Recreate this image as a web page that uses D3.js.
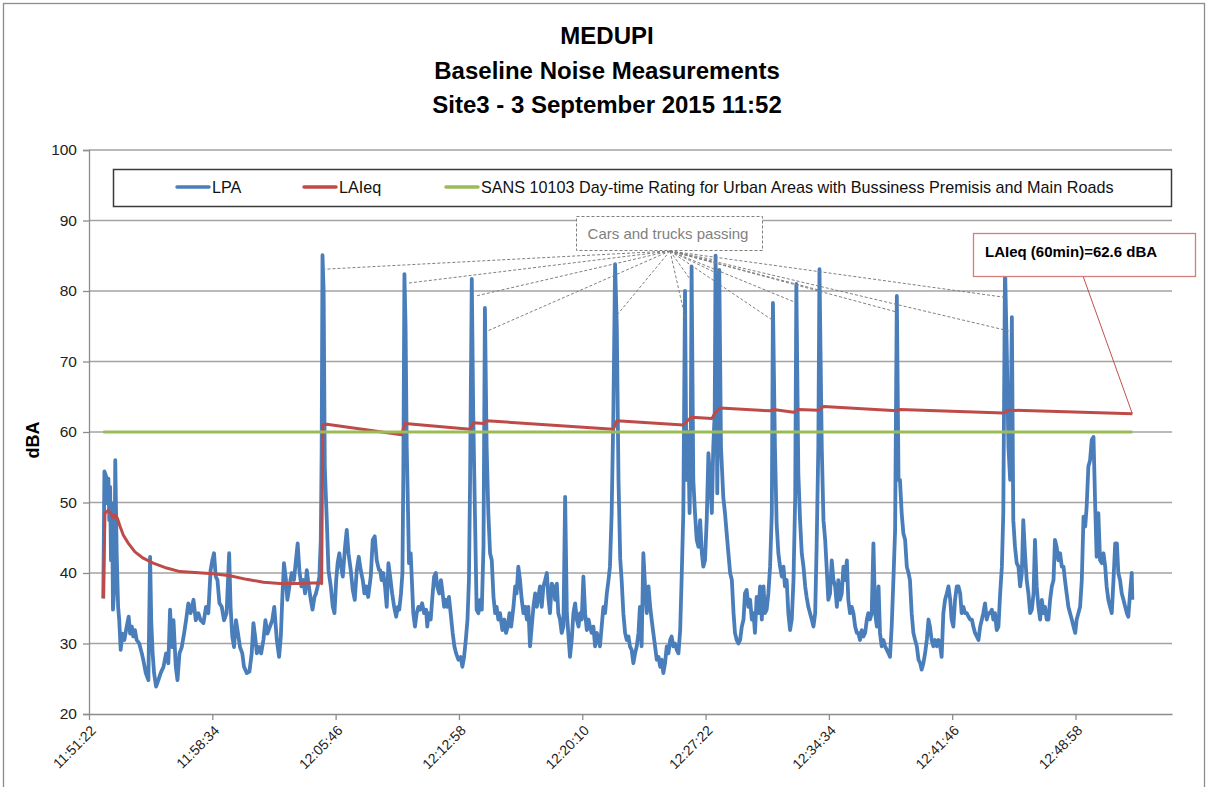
<!DOCTYPE html>
<html>
<head>
<meta charset="utf-8">
<script src="https://cdn.jsdelivr.net/npm/d3@7"></script>
<style>
  body { margin: 0; background: #fff; }
  svg { display: block; font-family: "Liberation Sans", Arial, sans-serif; }
</style>
</head>
<body>
<svg id="chart" width="1208" height="787"></svg>
<script>
// ---------------- data ----------------
var titleLines = ["MEDUPI", "Baseline Noise Measurements", "Site3 - 3 September 2015 11:52"];
var startTime = new Date(2015, 8, 3, 11, 51, 22);
var axisEndSec = 3794;
var xTickSec = [0, 432, 864, 1296, 1728, 2160, 2592, 3024, 3456];
var yTicks = [20, 30, 40, 50, 60, 70, 80, 90, 100];

// LPA, seconds after 11:51:22 and dBA
var lpaSec = [50,54,60,64,68,71,74,77,81,84,89,92,97,102,106,111,117,124,132,139,144,150,155,161,167,176,185,190,199,208,
  214,218,223,228,235,243,251,261,270,278,284,290,296,304,310,317,325,333,340,348,356,366,374,383,391,401,410,418,426,432,
  438,444,450,457,465,473,482,491,496,502,508,515,522,529,537,543,553,562,570,576,582,588,596,603,611,618,625,634,642,649,
  658,666,672,677,683,690,695,702,710,718,725,731,737,744,751,757,763,770,777,783,790,795,801,807,812,815,818,822,826,833,
  839,847,854,860,866,871,877,883,889,897,903,909,917,924,931,938,945,952,959,965,971,978,987,994,1001,1008,1016,
  1020,1025,1031,1037,1043,1049,1055,1062,1069,1076,1082,1087,1093,1098,1101,1105,1109,1113,1117,1121,1127,1132,1136,1142,
  1148,1154,1160,1167,1174,1181,1185,1190,1197,1203,1209,1215,1220,1227,1233,1239,1244,1250,1255,1261,1267,1274,1280,1286,
  1294,1302,1308,1314,1320,1326,1331,1335,1341,1346,1352,1358,1364,1370,1376,1382,1387,1393,1399,1405,1411,1417,1423,1428,
  1434,1440,1448,1455,1461,1467,1473,1479,1487,1493,1498,1504,1510,1516,1522,1528,1534,1539,1545,1551,1557,1563,1569,1574,
  1580,1586,1592,1598,1604,1609,1615,1621,1627,1633,1639,1644,1650,1656,1662,1668,1674,1679,1685,1691,1697,1703,1709,1715,
  1720,1726,1732,1738,1744,1750,1755,1761,1767,1773,1779,1785,1790,1796,1802,1808,1814,1820,1825,1831,1837,1843,1849,1855,
  1861,1866,1872,1878,1884,1890,1895,1901,1907,1913,1919,1925,1930,1936,1942,1948,1954,1960,1966,1971,1977,1983,1989,1995,
  2001,2006,2012,2018,2024,2030,2036,2041,2047,2053,2059,2065,2071,2076,2082,2088,2093,2099,2104,2108,2111,2117,2123,2129,
  2135,2141,2147,2152,2158,2164,2170,2176,2182,2187,2192,2195,2201,2208,2214,2222,2228,2234,2240,2246,2252,2258,2263,2269,
  2275,2281,2287,2293,2298,2304,2310,2316,2322,2328,2333,2339,2345,2351,2357,2363,2368,2374,2380,2386,2392,2396,2403,2409,
  2415,2421,2427,2433,2438,2444,2450,2456,2462,2468,2474,2478,2485,2491,2497,2503,2509,2514,2520,2526,2532,2538,2544,2549,
  2555,2559,2567,2573,2579,2584,2590,2596,2602,2608,2614,2620,2625,2631,2637,2643,2649,2655,2660,2666,2672,2678,2684,2690,
  2695,2701,2707,2713,2719,2725,2730,2736,2742,2748,2754,2760,2766,2771,2777,2783,2789,2795,2801,2806,2812,2818,2824,2830,
  2836,2841,2847,2853,2859,2865,2871,2876,2882,2888,2894,2900,2906,2912,2917,2923,2929,2935,2941,2946,2952,2958,2964,2970,
  2976,2982,2987,2993,2999,3005,3011,3017,3022,3028,3034,3040,3046,3052,3057,3063,3069,3075,3081,3087,3093,3098,3104,3110,
  3116,3122,3128,3133,3139,3145,3151,3157,3163,3168,3174,3180,3186,3192,3198,3203,3209,3215,3221,3227,3233,3238,3244,3250,
  3256,3262,3268,3273,3279,3285,3291,3297,3303,3309,3314,3320,3326,3332,3338,3344,3349,3355,3361,3367,3373,3379,3384,3390,
  3396,3402,3408,3414,3419,3425,3431,3437,3443,3449,3455,3460,3466,3472,3478,3484,3490,3495,3501,3507,3513,3519,3525,3530,
  3536,3542,3548,3554,3560,3565,3571,3577,3583,3589,3595,3601,3606,3612,3618,3624,3630,3636,3641,3647,3653,3655];
var lpaDb = [36.4,54.4,53.7,49.9,53.4,47.5,52.2,41.8,49.9,34.8,38.1,56.0,42.8,35.2,33.3,29.1,31.4,30.5,32.4,33.8,31.4,32.4,31.0,31.9,30.5,30.0,28.6,27.7,25.8,24.8,
  42.3,33.3,28.6,25.8,23.9,24.8,25.8,26.7,28.6,27.2,34.8,29.5,33.3,26.7,24.8,28.6,29.5,31.4,33.3,35.7,34.3,36.2,33.3,34.3,33.3,32.9,35.2,34.3,40.4,41.8,
  42.8,39.5,39.0,35.7,35.2,33.3,34.3,42.8,35.2,31.0,29.5,33.3,31.4,29.5,28.6,26.7,25.8,26.0,28.6,32.9,31.0,28.6,29.5,28.6,30.5,33.3,31.4,32.4,33.3,35.2,
  30.5,28.1,31.0,36.2,41.4,39.0,36.2,38.1,40.0,39.0,41.8,44.2,40.4,38.1,39.0,37.1,40.4,38.1,36.2,34.8,36.6,37.1,38.1,39.5,44.7,57.0,85.1,80.0,55.0,47.5,
  40.4,38.1,35.2,34.3,39.0,41.4,42.8,40.9,39.5,43.7,46.1,42.8,40.4,37.6,36.2,40.4,42.3,40.4,39.0,37.1,38.1,36.6,39.5,44.7,45.2,41.8,40.4,
  40.4,39.0,40.0,38.1,35.2,41.4,39.5,37.1,35.2,33.8,35.2,34.8,37.1,40.0,53.2,82.4,75.0,58.0,50.0,41.4,42.8,38.1,34.3,32.4,
  34.3,35.2,34.8,35.7,34.3,34.8,32.4,34.3,33.4,36.6,39.5,40.0,38.1,37.1,39.0,37.1,35.2,36.2,35.2,36.6,34.3,31.5,29.6,28.6,
  27.7,28.1,26.7,28.1,30.5,33.4,39.0,53.2,81.7,62.7,48.5,34.8,34.3,36.2,34.8,43.7,77.6,57.9,48.5,42.8,41.8,36.6,34.3,35.2,
  33.4,34.3,31.9,33.4,31.5,32.4,34.3,32.4,35.2,38.1,37.1,40.9,39.0,36.2,34.3,35.2,33.4,35.2,29.6,32.4,35.2,37.1,35.2,36.6,
  38.1,35.2,38.1,39.0,40.0,36.6,34.3,38.5,38.1,36.2,38.5,34.3,33.4,31.5,32.4,50.8,34.3,31.5,28.1,30.5,34.3,35.7,33.4,32.4,
  34.3,33.4,39.5,34.3,31.9,33.4,32.4,31.5,32.4,29.6,31.5,30.5,29.6,32.4,35.2,34.3,37.1,39.0,40.9,48.5,62.7,83.8,75.0,53.2,
  42.0,39.0,34.3,31.5,30.5,31.0,29.6,29.1,27.2,28.6,29.6,31.5,35.2,29.6,42.8,38.1,34.3,38.1,35.2,33.4,31.5,29.6,27.7,28.1,
  26.7,27.7,25.8,27.2,29.6,28.6,30.5,31.0,29.6,30.0,29.1,28.6,31.9,39.0,48.5,80.0,53.2,60.0,48.5,57.9,83.5,53.2,48.5,44.7,
  43.7,47.5,42.8,40.9,41.8,47.5,57.0,53.2,48.5,57.9,62.7,85.0,51.3,83.0,57.9,50.8,48.5,45.6,42.8,40.0,39.0,34.3,31.5,30.5,
  30.0,30.5,32.4,33.4,37.1,37.6,35.2,36.2,33.4,34.3,31.5,36.6,34.3,38.1,33.4,38.1,34.3,34.8,37.1,40.9,48.5,78.3,57.9,47.0,
  42.8,40.9,39.5,40.9,38.1,39.0,34.3,31.9,33.4,39.0,50.8,81.0,54.1,47.5,42.8,40.9,38.1,36.6,35.2,34.3,33.4,32.4,34.3,43.7,
  57.9,83.1,57.9,47.5,44.7,40.9,36.2,37.1,41.8,39.0,38.1,35.2,39.0,36.2,37.1,40.9,39.0,41.8,36.2,34.3,35.2,34.3,32.4,31.5,
  31.5,30.5,31.9,31.0,31.5,33.4,34.3,33.4,34.3,44.2,34.3,32.4,38.1,31.5,29.6,30.5,29.6,29.1,28.6,28.1,32.4,39.0,46.1,79.3,
  53.2,53.2,48.5,45.6,44.7,40.9,40.0,39.0,34.3,31.5,30.5,29.6,27.7,27.2,26.3,27.2,28.6,30.5,33.4,32.4,30.5,29.6,30.5,29.6,
  30.5,29.6,28.1,34.3,36.2,37.1,38.1,36.2,33.4,32.4,36.2,38.1,38.1,37.1,34.3,35.2,34.3,34.3,33.8,33.4,33.4,32.4,31.5,31.0,
  30.5,32.4,33.4,34.3,35.7,33.4,34.3,34.3,34.8,33.4,34.3,31.9,32.4,37.1,40.9,48.5,83.5,72.0,57.9,53.2,76.3,47.5,43.7,41.4,
  40.9,38.1,40.0,47.5,42.8,39.0,37.1,34.3,34.8,37.1,44.7,38.1,35.2,33.4,36.2,34.3,35.2,33.4,33.4,36.2,38.1,39.0,44.7,43.7,
  41.8,42.8,40.9,40.9,39.0,37.1,35.2,34.3,33.4,32.4,31.5,33.4,34.3,35.2,39.0,48.0,46.6,49.4,55.1,56.0,58.9,59.3,49.4,42.3,
  48.5,41.8,41.4,42.8,40.9,38.1,36.2,35.2,34.3,39.0,44.2,44.2,40.0,39.0,37.1,36.2,35.2,34.3,33.8,37.1,40.0,36.2];

// LAIeq running average
var laeqSec = [50,56,68,80,85,92,99,109,120,138,161,190,225,272,319,436,494,552,611,669,728,812,815,819,833,1095,1107,1335,1347,1382,
  1393,1837,1849,2082,2094,2111,2182,2193,2211,2386,2398,2468,2485,2555,2573,2830,2841,3203,3221,3655];
var laeqDb = [36.4,48.5,48.9,48.2,47.8,48.2,47.8,46.6,45.4,44.2,43.0,42.1,41.4,40.7,40.2,39.9,39.6,39.1,38.7,38.5,38.5,38.6,38.5,61.0,61.1,59.6,61.2,60.4,61.3,61.2,
  61.6,60.4,61.6,61.0,61.5,62.1,61.9,62.7,63.4,63.0,63.2,62.8,63.2,63.1,63.6,63.0,63.2,62.7,63.1,62.6];

// SANS 10103 rating
var sansSec = [50, 3655];
var sansDb = [60, 60];

// points the "Cars and trucks passing" callout points at
var carsSec = [827,1114,1356,1394,1850,2088,2116,2193,2211,2393,2474,2561,2831,3209,3237];
var carsDb = [83.1,81.1,79.3,74.3,76.6,76.3,81.1,84.4,82.3,75.9,78.4,80.1,77.0,79.1,74.2];

var legendNames = ["LPA", "LAIeq", "SANS 10103 Day-time Rating for Urban Areas with Bussiness Premisis and Main Roads"];
var laeqNote = "LAIeq (60min)=62.6 dBA";
var carsNote = "Cars and trucks passing";

// ---------------- chart ----------------
var colors = { lpa: "#4a7ebb", laeq: "#be4b48", sans: "#9bbb59" };
var plot = { left: 89, right: 1172, top: 150, bottom: 714 };

var svg = d3.select("#chart");
function toDate(s) { return new Date(startTime.getTime() + s * 1000); }

var x = d3.scaleTime()
  .domain([startTime, toDate(axisEndSec)])
  .range([plot.left, plot.right]);
var y = d3.scaleLinear()
  .domain([20, 100])
  .range([plot.bottom, plot.top]);

// outer frame
svg.append("rect")
  .attr("x", 3.5).attr("y", 3.5)
  .attr("width", 1201).attr("height", 800)
  .attr("fill", "#fff").attr("stroke", "#8c8c8c").attr("stroke-width", 1.3);

// title
svg.append("g").selectAll("text")
  .data(titleLines)
  .enter().append("text")
  .attr("x", 607)
  .attr("y", function(d, i) { return 44 + i * 34.5; })
  .attr("text-anchor", "middle")
  .style("font-size", "24px").style("font-weight", "bold")
  .text(function(d) { return d; });

// gridlines
svg.append("g").selectAll("line")
  .data(yTicks.filter(function(d) { return d > 20; }))
  .enter().append("line")
  .attr("x1", plot.left).attr("x2", plot.right)
  .attr("y1", function(d) { return y(d); }).attr("y2", function(d) { return y(d); })
  .attr("stroke", "#a3a3a3").attr("stroke-width", 1.3);

// y axis
var yAxis = svg.append("g")
  .attr("transform", "translate(" + plot.left + ",0)")
  .call(d3.axisLeft(y).tickValues(yTicks).tickSize(6).tickPadding(6));
yAxis.selectAll("path, line").attr("stroke", "#8c8c8c").attr("stroke-width", 1.3);
yAxis.selectAll("text").style("font-size", "15.5px").attr("fill", "#222")
  .style("font-family", "'Liberation Sans', Arial, sans-serif");

// x axis
var xAxis = svg.append("g")
  .attr("transform", "translate(0," + plot.bottom + ")")
  .call(d3.axisBottom(x)
    .tickValues(xTickSec.map(toDate))
    .tickFormat(d3.timeFormat("%H:%M:%S"))
    .tickSize(6).tickSizeOuter(0));
xAxis.selectAll("path, line").attr("stroke", "#8c8c8c").attr("stroke-width", 1.3);
xAxis.selectAll("text")
  .style("font-size", "14px").attr("fill", "#222")
  .style("font-family", "'Liberation Sans', Arial, sans-serif")
  .attr("text-anchor", "end")
  .attr("dy", null)
  .attr("transform", "translate(1,11) rotate(-45)");

// y axis title
svg.append("text")
  .attr("transform", "translate(39,440) rotate(-90)")
  .attr("text-anchor", "middle")
  .style("font-size", "18px").style("font-weight", "bold")
  .text("dBA");

// series
function series(secs, dbs) {
  return secs.map(function(s, i) { return { t: toDate(s), v: dbs[i] }; });
}
var line = d3.line()
  .x(function(d) { return x(d.t); })
  .y(function(d) { return y(d.v); });

svg.append("path")
  .datum(series(lpaSec, lpaDb))
  .attr("d", line)
  .attr("fill", "none").attr("stroke", colors.lpa)
  .attr("stroke-width", 3.8).attr("stroke-linejoin", "round");

svg.append("path")
  .datum(series(laeqSec, laeqDb))
  .attr("d", line)
  .attr("fill", "none").attr("stroke", colors.laeq)
  .attr("stroke-width", 3).attr("stroke-linejoin", "round");

svg.append("path")
  .datum(series(sansSec, sansDb))
  .attr("d", line)
  .attr("fill", "none").attr("stroke", colors.sans)
  .attr("stroke-width", 3.2);

// legend
var legend = svg.append("g");
legend.append("rect")
  .attr("x", 113.5).attr("y", 169.5)
  .attr("width", 1058).attr("height", 37)
  .attr("fill", "#fff").attr("stroke", "#3a3a3a").attr("stroke-width", 1.5);
var legendX = [177, 304, 446];
var legendColors = [colors.lpa, colors.laeq, colors.sans];
legendNames.forEach(function(name, i) {
  legend.append("line")
    .attr("x1", legendX[i]).attr("x2", legendX[i] + 32)
    .attr("y1", 187).attr("y2", 187)
    .attr("stroke", legendColors[i]).attr("stroke-width", 3.5)
    .attr("stroke-linecap", "round");
  legend.append("text")
    .attr("x", legendX[i] + 35).attr("y", 193)
    .style("font-size", "16.2px").attr("fill", "#111")
    .text(name);
});

// "Cars and trucks passing" callout
var carsOrigin = [670, 251];
svg.append("g").selectAll("line")
  .data(carsSec.map(function(s, i) { return { t: toDate(s), v: carsDb[i] }; }))
  .enter().append("line")
  .attr("x1", carsOrigin[0]).attr("y1", carsOrigin[1])
  .attr("x2", function(d) { return x(d.t); })
  .attr("y2", function(d) { return y(d.v); })
  .attr("stroke", "#7f7f7f").attr("stroke-width", 1)
  .attr("stroke-dasharray", "3,2");
svg.append("rect")
  .attr("x", 576.5).attr("y", 216.5).attr("width", 186).attr("height", 34)
  .attr("fill", "#fff").attr("stroke", "#7f7f7f").attr("stroke-width", 1)
  .attr("stroke-dasharray", "3,2");
svg.append("text")
  .attr("x", 668).attr("y", 239)
  .attr("text-anchor", "middle")
  .style("font-size", "15px").attr("fill", "#7f7f7f")
  .text(carsNote);

// LAIeq (60min) callout
var laeqLast = laeqSec.length - 1;
svg.append("line")
  .attr("x1", 1083).attr("y1", 276)
  .attr("x2", x(toDate(laeqSec[laeqLast])))
  .attr("y2", y(laeqDb[laeqLast]))
  .attr("stroke", "#c0504d").attr("stroke-width", 1);
svg.append("rect")
  .attr("x", 973.5).attr("y", 233.5).attr("width", 222).attr("height", 43)
  .attr("fill", "#fff").attr("stroke", "#d47d7b").attr("stroke-width", 1.3);
svg.append("text")
  .attr("x", 985).attr("y", 257)
  .style("font-size", "15px").style("font-weight", "bold")
  .text(laeqNote);
</script>
</body>
</html>
